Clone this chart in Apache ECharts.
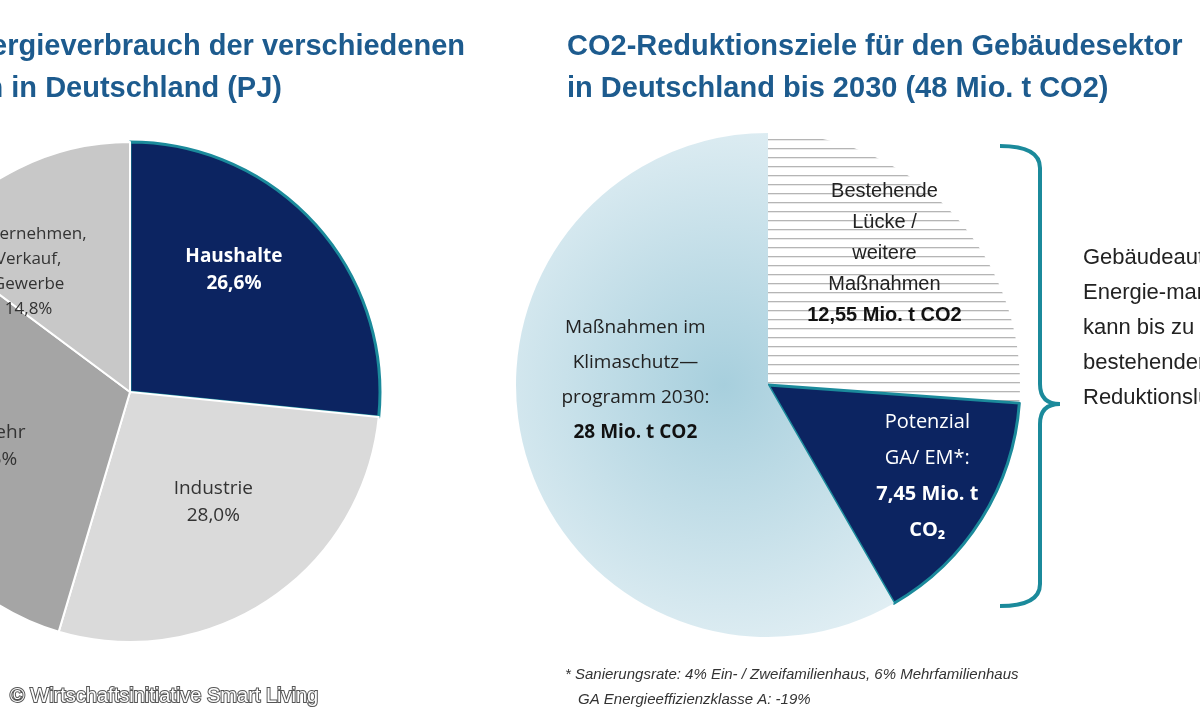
<!DOCTYPE html>
<html><head><meta charset="utf-8">
<script src="https://cdn.jsdelivr.net/npm/echarts@6/dist/echarts.min.js"></script>
<style>html,body{margin:0;padding:0;background:#fff}#c{width:1200px;height:720px}</style>
</head><body><div id="c"></div>
<script>
const sectorNames = ['Haushalte','Industrie','Verkehr','Gewerbe, Handel, Dienstleistungen'];
const sectorShares = [26.6, 28.0, 30.6, 14.8];
const co2Names = ['Bestehende Lücke / weitere Maßnahmen','Potenzial GA/ EM','Maßnahmen im Klimaschutzprogramm 2030'];
const co2Values = [12.55, 7.45, 28];

const cv = document.createElement('canvas'); cv.width = 8; cv.height = 9;
const cx = cv.getContext('2d'); cx.fillStyle = '#fff'; cx.fillRect(0,0,8,9);
cx.fillStyle = '#b5b5b5'; cx.fillRect(0,4,8,1.3);

const chart = echarts.init(document.getElementById('c'));
const teal = '#1b8a9b';
const bs = {stroke:teal, lineWidth:4, fill:null};
chart.setOption({
  animation:false,
  series:[
    {type:'pie', center:[130,392], radius:250, startAngle:90, clockwise:true,
     itemStyle:{borderColor:'#fff', borderWidth:2},
     label:{position:'inside', fontFamily:'Open Sans', fontSize:19, color:'#333', lineHeight:27},
     labelLine:{show:false},
     data:[
      {name:sectorNames[0], value:sectorShares[0], itemStyle:{color:'#0c2461', borderColor:teal, borderWidth:3},
       label:{formatter:'Haushalte\n26,6%', color:'#fff', fontWeight:'bold', offset:[9,-36]}},
      {name:sectorNames[1], value:sectorShares[1], itemStyle:{color:'#dadada'},
       label:{formatter:'Industrie\n28,0%', offset:[12,4]}},
      {name:sectorNames[2], value:sectorShares[2], itemStyle:{color:'#a5a5a5'},
       label:{formatter:'Verkehr\n30,6%', offset:[-18,14]}},
      {name:sectorNames[3], value:sectorShares[3], itemStyle:{color:'#c8c8c8'},
       label:{formatter:'Unternehmen,\nVerkauf,\nGewerbe\n14,8%', fontSize:17, lineHeight:25, offset:[-44,-6]}}
     ]},
    {type:'pie', center:[768,385], radius:252, startAngle:90, clockwise:true,
     label:{position:'inside', fontSize:19, lineHeight:31},
     labelLine:{show:false},
     data:[
      {name:co2Names[0], value:co2Values[0], itemStyle:{color:{image:cv, repeat:'repeat'}},
       label:{formatter:'{n|Bestehende}\n{n|Lücke /}\n{n|weitere}\n{n|Maßnahmen}\n{b|12,55 Mio. t CO2}', align:'left', offset:[22,-44],
        rich:{n:{fontFamily:'Liberation Sans', fontSize:20, color:'#222', lineHeight:31}, b:{fontFamily:'Liberation Sans', fontSize:20, fontWeight:'bold', color:'#111', lineHeight:31}}}},
      {name:co2Names[1], value:co2Values[1], itemStyle:{color:'#0c2461', borderColor:teal, borderWidth:3},
       label:{formatter:'{n|Potenzial}\n{n|GA/ EM*:}\n{b|7,45 Mio. t}\n{b|CO₂}', align:'center', offset:[50,23],
        rich:{n:{fontFamily:'Open Sans', fontSize:20, color:'#fff', lineHeight:36}, b:{fontFamily:'Open Sans', fontSize:20, fontWeight:'bold', color:'#fff', lineHeight:36}}}},
      {name:co2Names[2], value:co2Values[2], itemStyle:{color:{type:'radial', x:0.55, y:0.5, r:0.75,
         colorStops:[{offset:0,color:'#a7cfdd'},{offset:1,color:'#e2eff4'}]}},
       label:{formatter:'{n|Maßnahmen im}\n{n|Klimaschutz—}\n{n|programm 2030:}\n{b|28 Mio. t CO2}', align:'left', offset:[-8,-38],
        rich:{n:{fontFamily:'Open Sans', fontSize:19, color:'#222', lineHeight:35}, b:{fontFamily:'Open Sans', fontSize:19, fontWeight:'bold', color:'#111', lineHeight:35}}}}
     ]}
  ],
  graphic:[
    {type:'text', x:465, y:32, style:{text:'Endenergieverbrauch der verschiedenen', textAlign:'right', fontFamily:'Liberation Sans', fontWeight:'bold', fontSize:29, fill:'#1d5b8e'}},
    {type:'text', x:282, y:74, style:{text:'Sektoren in Deutschland (PJ)', textAlign:'right', fontFamily:'Liberation Sans', fontWeight:'bold', fontSize:29, fill:'#1d5b8e'}},
    {type:'text', x:567, y:32, style:{text:'CO2-Reduktionsziele für den Gebäudesektor', fontFamily:'Liberation Sans', fontWeight:'bold', fontSize:29, fill:'#1d5b8e'}},
    {type:'text', x:567, y:74, style:{text:'in Deutschland bis 2030 (48 Mio. t CO2)', fontFamily:'Liberation Sans', fontWeight:'bold', fontSize:29, fill:'#1d5b8e'}},
    {type:'bezierCurve', shape:{x1:1000,y1:146,x2:1040,y2:168,cpx1:1040,cpy1:146}, style:bs},
    {type:'line', shape:{x1:1040,y1:168,x2:1040,y2:384}, style:bs},
    {type:'bezierCurve', shape:{x1:1040,y1:384,x2:1060,y2:404,cpx1:1040,cpy1:404}, style:bs},
    {type:'bezierCurve', shape:{x1:1060,y1:404,x2:1040,y2:424,cpx1:1040,cpy1:404}, style:bs},
    {type:'line', shape:{x1:1040,y1:424,x2:1040,y2:584}, style:bs},
    {type:'bezierCurve', shape:{x1:1040,y1:584,x2:1000,y2:606,cpx1:1040,cpy1:606}, style:bs},
    {type:'text', x:1083, y:240, style:{text:'Gebäudeautomation und\nEnergie-management\nkann bis zu 60% der\nbestehenden\nReduktionslücke', fontFamily:'Liberation Sans', fontSize:22, lineHeight:35, fill:'#222'}},
    {type:'text', x:565, y:667, style:{text:'* Sanierungsrate: 4% Ein- / Zweifamilienhaus, 6% Mehrfamilienhaus', fontFamily:'Liberation Sans', fontStyle:'italic', fontSize:15, fill:'#333'}},
    {type:'text', x:578, y:692, style:{text:'GA Energieeffizienzklasse A: -19%', fontFamily:'Liberation Sans', fontStyle:'italic', fontSize:15, fill:'#333'}},
    {type:'text', x:10, y:686, style:{text:'© Wirtschaftsinitiative Smart Living', fontFamily:'Liberation Sans', fontSize:20, fill:'#fff', stroke:'#555', lineWidth:2}}
  ]
});
</script></body></html>
